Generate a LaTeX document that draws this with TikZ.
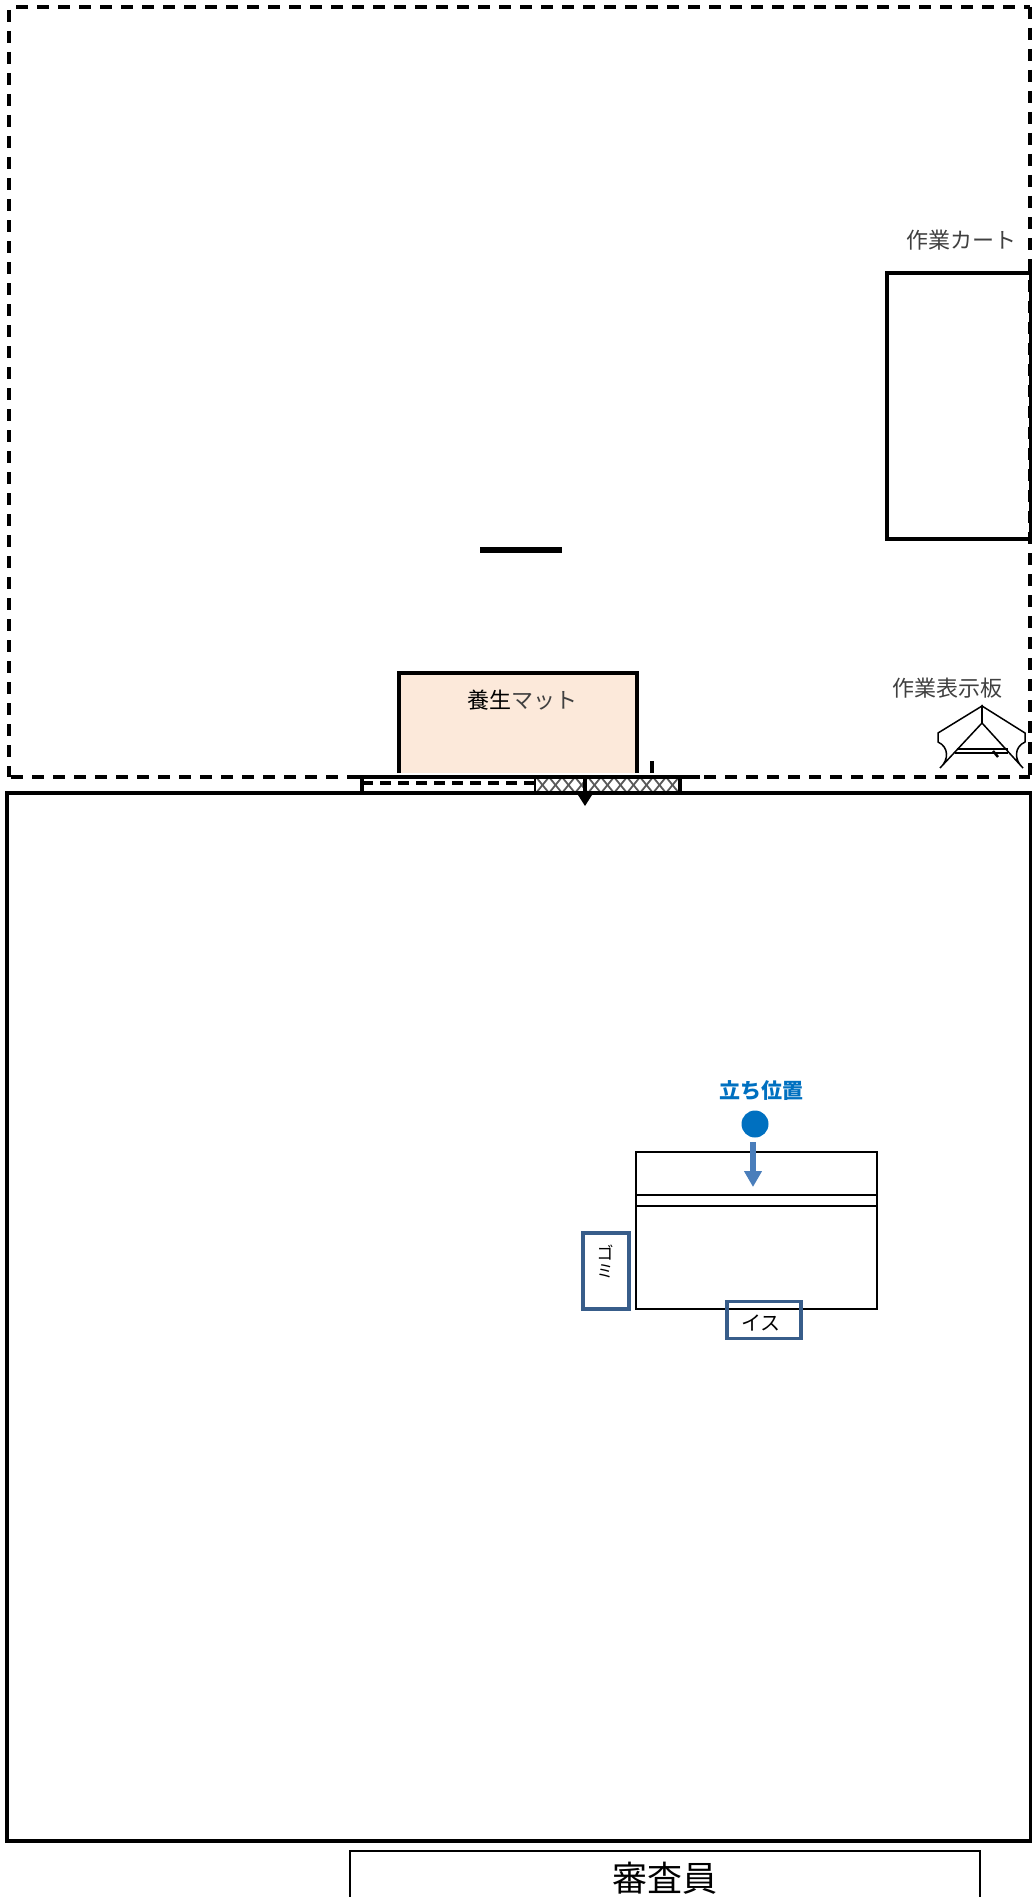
\documentclass[tikz,border=0pt]{standalone}
\usepackage{fontspec}
\setmainfont{Noto Sans CJK JP}
\usetikzlibrary{arrows.meta, positioning, calc}

\definecolor{matfill}{HTML}{FCE9DA}
\definecolor{standblue}{HTML}{0070C0}
\definecolor{arrowblue}{HTML}{4A7EBB}
\definecolor{boxblue}{HTML}{385D8A}
\definecolor{labelgray}{HTML}{404040}

\tikzset{
    wall/.style={line width=3.5pt},
    thinwall/.style={line width=2pt},
    dashwall/.style={line width=3.5pt, dash pattern=on 12pt off 9pt},
    bluebox/.style={draw=boxblue, line width=3.5pt},
    graylabel/.style={font=\fontsize{22}{26}\selectfont, text=labelgray, inner sep=0pt},
}

\begin{document}
\begin{tikzpicture}[x=1pt,y=-1pt]
    \useasboundingbox (0,0) rectangle (1031,1897);

    % Work area and room
    \draw[dashwall] (16,7) -- (1030,7);
    \draw[dashwall] (9,10) -- (9,777);
    \draw[dashwall] (1030,7) -- (1030,777);
    \draw[dashwall] (11,777) -- (1030,777);
    \draw[wall] (7,793) rectangle (1031,1841);

    % Cart
    \draw[wall] (887,273) rectangle (1031,539);
    \node[graylabel] (cartlabel) at (961,240) {作業カート};

    % Short bar
    \draw[line width=6pt] (480,550) -- (562,550);

    % Mat
    \fill[matfill] (399,673) rectangle (637,773);
    \draw[wall] (399,773) -- (399,673) -- (637,673) -- (637,773);
    \node[font=\fontsize{22}{26}\selectfont, inner sep=0pt] (matlabel) at (522,700) {養生\textcolor{labelgray}{マット}};
    \draw[wall] (652,761) -- (652,773);

    % Entrance
    \fill[white] (347,775) rectangle (700,792);
    \begin{scope}
        \clip (535,777) rectangle (680,793);
        \foreach \i in {0,13,...,169} {
            \draw[black!65,line width=1.8pt] (523+\i,777) -- (536+\i,793);
            \draw[black!65,line width=1.8pt] (536+\i,777) -- (523+\i,793);
        }
    \end{scope}
    \draw[line width=4pt] (347,777) -- (700,777);
    \draw[wall, dash pattern=on 11pt off 7pt] (362,783) -- (535,783);
    \draw[line width=1.5pt] (535,777) -- (535,793);
    \draw[wall] (362,775) -- (362,793);
    \draw[wall] (680,777) -- (680,795);
    \draw[wall] (585,777) -- (585,797);
    \draw[wall] (7,793) -- (1031,793);
    \fill (578,795) -- (592,795) -- (585,806) -- cycle;

    % Sign board
    \node[graylabel] (boardlabel) at (947,688) {作業表示板};
    \draw[line width=1.5pt,fill=white] (982,706) -- (938,733) -- (938,742)
        .. controls (949,747) and (949,760) .. (940,768) -- (982,723) -- cycle;
    \draw[line width=1.5pt,fill=white] (982,706) -- (1025,733) -- (1025,742)
        .. controls (1014,747) and (1014,760) .. (1023,768) -- (982,723) -- cycle;
    \draw[line width=2pt] (982,706) -- (982,723);
    \draw[line width=1.5pt] (957,749) -- (1008,749);
    \draw[line width=2pt] (955,753) -- (1008,753);
    \draw[line width=2.5pt] (993,751) -- (998,757);

    % Desk
    \draw[thinwall] (636,1152) rectangle (877,1309);
    \draw[thinwall] (636,1195) -- (877,1195);
    \draw[thinwall] (636,1206) -- (877,1206);

    % Standing position
    \node[font=\fontsize{21}{24}\selectfont\bfseries, text=standblue, inner sep=0pt] (standlabel) at (761,1091) {立ち位置};
    \node[circle, fill=standblue, minimum size=27pt, inner sep=0pt] (standdot) at (755,1124) {};
    \coordinate (arrowstart) at (753,1142);
    \coordinate (arrowend) at (753,1187);
    \draw[arrowblue, line width=6pt, -{Triangle[length=16pt,width=17pt]}] (arrowstart) -- (arrowend);

    % Bin and chair
    \node[bluebox, minimum width=46pt, minimum height=76pt, inner sep=0pt] (binbox) at (606,1271) {};
    \node[align=center, font=\fontsize{17}{18}\selectfont, inner sep=0pt] (binlabel) at (605,1261) {ゴ\\ミ};
    \node[bluebox, minimum width=74pt, minimum height=37pt, inner sep=0pt] (chairbox) at (764,1320) {};
    \node[font=\fontsize{20}{22}\selectfont, inner sep=0pt] (chairlabel) at (761,1323) {イス};

    % Examiner
    \draw[line width=2.5pt] (350,1897) -- (350,1851) -- (980,1851) -- (980,1897);
    \node[font=\fontsize{35}{38}\selectfont, inner sep=0pt] (examinerlabel) at (665,1878) {審査員};
\end{tikzpicture}
\end{document}
